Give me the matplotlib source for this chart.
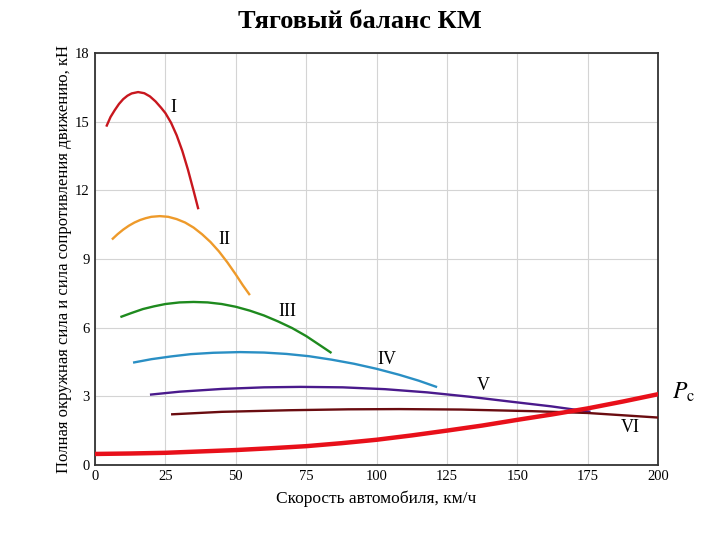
import matplotlib.pyplot as plt

plt.rcParams['font.family'] = ['Liberation Serif', 'DejaVu Serif']
plt.rcParams['mathtext.fontset'] = 'stix'

# gear curves (speed km/h, force kN)
x1 = [4, 5.5, 7, 8.5, 10, 11.5, 13, 15.3, 17.5, 19.5, 21.5, 23.5, 25, 27, 29, 31, 33, 35, 36.7]
y1 = [14.78, 15.2, 15.5, 15.77, 15.98, 16.13, 16.23, 16.29, 16.24, 16.1, 15.88, 15.6, 15.37,
      14.95, 14.4, 13.72, 12.9, 11.98, 11.17]

x2 = [6, 8, 10, 12, 14, 16, 18, 20, 23, 26, 29, 32, 35, 38, 41, 44, 47, 50, 52.5, 55]
y2 = [9.85, 10.08, 10.28, 10.45, 10.59, 10.7, 10.78, 10.84, 10.87, 10.84, 10.74, 10.59,
      10.37, 10.08, 9.74, 9.33, 8.85, 8.32, 7.85, 7.42]

x3 = [9, 13, 17, 21, 25, 30, 35, 40, 45, 50, 55, 60, 65, 70, 75, 80, 84]
y3 = [6.46, 6.64, 6.81, 6.93, 7.03, 7.1, 7.12, 7.1, 7.03, 6.91, 6.74, 6.53, 6.27, 5.98,
      5.63, 5.22, 4.89]

x4 = [13.5, 20, 27, 34, 42, 51.5, 60, 68, 76, 84, 92, 100, 108, 115, 121.5]
y4 = [4.47, 4.62, 4.74, 4.84, 4.9, 4.93, 4.91, 4.85, 4.75, 4.6, 4.42, 4.2, 3.94, 3.68, 3.4]

x5 = [19.5, 30, 45, 60, 73, 88, 103, 118, 133, 148, 162, 176]
y5 = [3.07, 3.2, 3.32, 3.39, 3.41, 3.39, 3.31, 3.17, 2.98, 2.76, 2.56, 2.32]

x6 = [27, 45, 69, 90, 108, 130, 155, 175, 200]
y6 = [2.21, 2.32, 2.39, 2.43, 2.44, 2.42, 2.35, 2.27, 2.07]

# resistance force
xc = [0, 12.5, 25, 37.5, 50, 62.5, 75, 87.5, 100, 112.5, 125, 137.5, 150, 162.5, 175, 187.5, 200]
yc = [0.48, 0.5, 0.53, 0.59, 0.65, 0.73, 0.82, 0.95, 1.1, 1.29, 1.5, 1.72, 1.97, 2.21, 2.47, 2.77, 3.09]

gears = ['I', 'II', 'III', 'IV', 'V', 'VI']
colors = ['#c8171e', '#ee9a2a', '#1e8a1e', '#2a8fc4', '#4a1a8c', '#6a0c10']
label_pos = [(27.7, 15.6), (46, 9.83), (68.5, 6.72), (103.7, 4.59), (137.8, 3.49), (190, 1.62)]

fig = plt.figure(figsize=(7.2, 5.4), dpi=100)
ax = fig.add_axes([0.132, 0.139, 0.782, 0.763])

for xs, ys, c in zip([x1, x2, x3, x4, x5, x6], [y1, y2, y3, y4, y5, y6], colors):
    ax.plot(xs, ys, color=c, lw=1.7, solid_capstyle='butt', zorder=3)
ax.plot(xc, yc, color='#e8101a', lw=3.2, zorder=4)

for g, (tx, ty) in zip(gears, label_pos):
    ax.text(tx, ty, g, fontsize=13, ha='center', va='center')
ax.text(205, 3.15, r'$P_\mathrm{c}$', fontsize=17, ha='left', va='center', clip_on=False)

ax.set_xlim(0, 200)
ax.set_ylim(0, 18)
ax.set_xticks(range(0, 201, 25))
ax.set_yticks(range(0, 19, 3))
ax.tick_params(length=0, labelsize=10.5, pad=4)
ax.grid(color='#d4d4d4', lw=0.8)
ax.set_axisbelow(True)
for s in ax.spines.values():
    s.set_color('#333333')
    s.set_linewidth(1.3)

ax.set_xlabel('Скорость автомобиля, км/ч', fontsize=12.5, labelpad=5)
ax.set_ylabel('Полная окружная сила и сила сопротивления движению, кН', fontsize=12, labelpad=2)
fig.text(0.5, 0.96, 'Тяговый баланс КМ', fontsize=19, fontweight='bold', ha='center', va='center')

fig.savefig('out.png', dpi=100)
